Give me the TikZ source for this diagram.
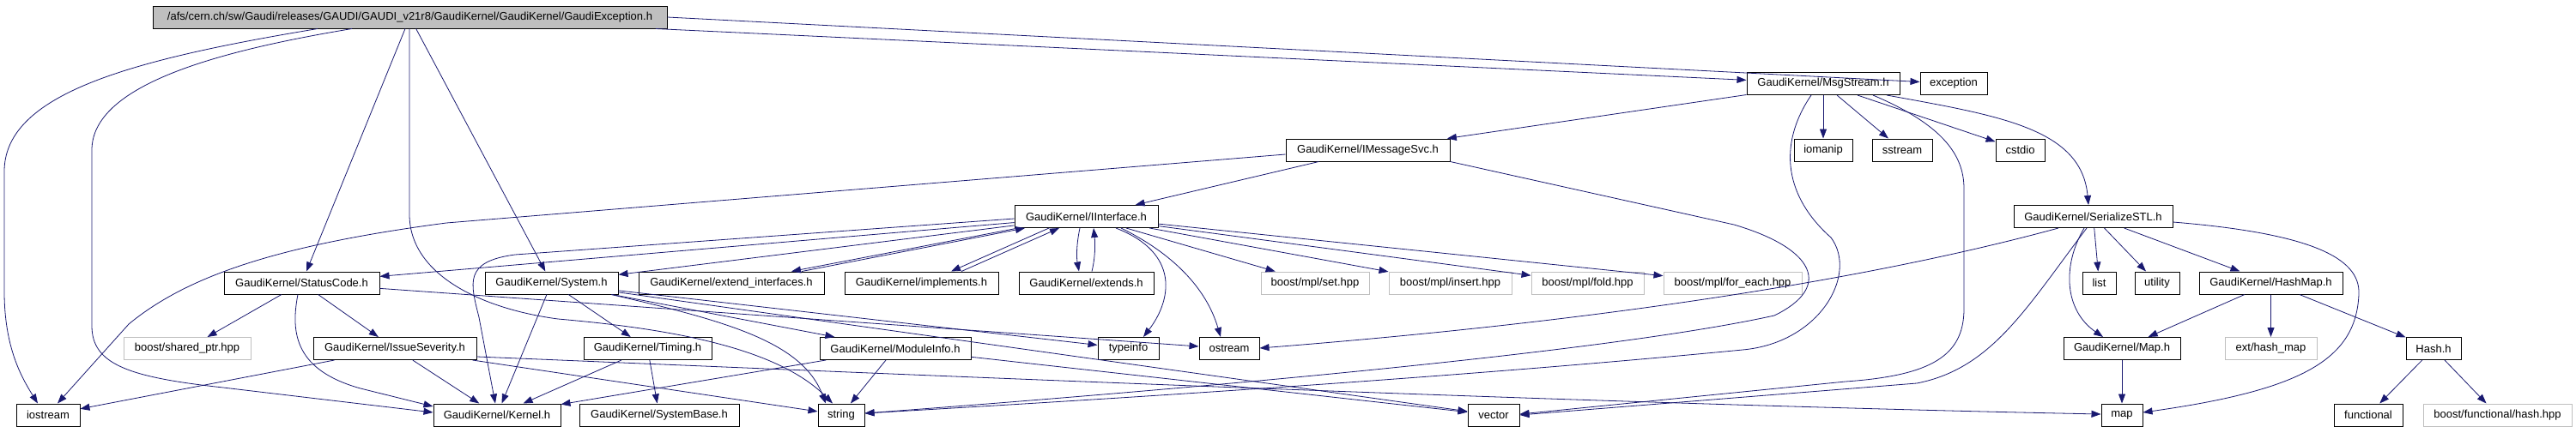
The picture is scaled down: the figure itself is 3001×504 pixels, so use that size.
\documentclass[tikz,border=0pt]{standalone}
\usepackage{fontspec}
\setmainfont{Liberation Sans}
\usepackage{tikz}
\usetikzlibrary{arrows.meta}
\usepackage{xcolor}
\definecolor{edgec}{RGB}{25,25,112}
\definecolor{rootgrey}{RGB}{191,191,191}
\definecolor{extgrey}{RGB}{191,191,191}

\begin{document}
\begin{tikzpicture}[
  x=1pt, y=-1pt,
  hdr/.style={rectangle, draw=black, line width=1pt, minimum height=26pt,
    inner sep=0pt, font=\fontsize{13}{15}\selectfont},
  sys/.style={hdr, draw=extgrey},
  dep/.style={-{Triangle[length=11pt,width=8pt]}, draw=edgec, line width=0.8pt},
]
\useasboundingbox (0,0) rectangle (3001,504);

% ---- top: the documented file ----
\node[hdr, fill=rootgrey, minimum width=599pt] (root) at (477.5,20)
  {/afs/cern.ch/sw/Gaudi/releases/GAUDI/GAUDI\_v21r8/GaudiKernel/GaudiKernel/GaudiException.h};

% ---- rows of included headers ----
\node[hdr, minimum width=178pt] (MsgStream) at (2124,97.5) {GaudiKernel/MsgStream.h};
\node[hdr, minimum width=78pt] (exception) at (2276,97.5) {exception};

\node[hdr, minimum width=191pt] (IMessageSvc) at (1593.5,175) {GaudiKernel/IMessageSvc.h};
\node[hdr, minimum width=68pt] (iomanip) at (2124,175) {iomanip};
\node[hdr, minimum width=70pt] (sstream) at (2216,175) {sstream};
\node[hdr, minimum width=57pt] (cstdio) at (2353.5,175) {cstdio};

\node[hdr, minimum width=167pt] (IInterface) at (1265.5,252.5) {GaudiKernel/IInterface.h};
\node[hdr, minimum width=185pt] (SerializeSTL) at (2438.5,252.5) {GaudiKernel/SerializeSTL.h};

\node[hdr, minimum width=181pt] (StatusCode) at (351.5,330) {GaudiKernel/StatusCode.h};
\node[hdr, minimum width=155pt] (System) at (642.5,330) {GaudiKernel/System.h};
\node[hdr, minimum width=216pt] (extend) at (852,330) {GaudiKernel/extend\_interfaces.h};
\node[hdr, minimum width=179pt] (implements) at (1073.5,330) {GaudiKernel/implements.h};
\node[hdr, minimum width=157pt] (extends) at (1265.5,330) {GaudiKernel/extends.h};
\node[sys, minimum width=126pt] (mplset) at (1532,330) {boost/mpl/set.hpp};
\node[sys, minimum width=143pt] (mplinsert) at (1689.5,330) {boost/mpl/insert.hpp};
\node[sys, minimum width=131pt] (mplfold) at (1849.5,330) {boost/mpl/fold.hpp};
\node[sys, minimum width=161pt] (mplforeach) at (2018.5,330) {boost/mpl/for\_each.hpp};
\node[hdr, minimum width=39pt] (list) at (2445.5,330) {list};
\node[hdr, minimum width=52pt] (utility) at (2513,330) {utility};
\node[hdr, minimum width=167pt] (HashMap) at (2645.5,330) {GaudiKernel/HashMap.h};

\node[sys, minimum width=148pt] (sharedptr) at (218,406.5) {boost/shared\_ptr.hpp};
\node[hdr, minimum width=190pt] (IssueSeverity) at (460,406.5) {GaudiKernel/IssueSeverity.h};
\node[hdr, minimum width=149pt] (Timing) at (754.5,406.5) {GaudiKernel/Timing.h};
\node[hdr, minimum width=176pt] (ModuleInfo) at (1043,406.5) {GaudiKernel/ModuleInfo.h};
\node[hdr, minimum width=71pt] (typeinfo) at (1314.5,406.5) {typeinfo};
\node[hdr, minimum width=70pt] (ostream) at (1432,406.5) {ostream};
\node[hdr, minimum width=136pt] (MapH) at (2472,406.5) {GaudiKernel/Map.h};
\node[sys, minimum width=107pt] (hashmapext) at (2645.5,406.5) {ext/hash\_map};
\node[hdr, minimum width=64pt] (Hash) at (2835,406.5) {Hash.h};

\node[hdr, minimum width=74pt] (iostream) at (56,484) {iostream};
\node[hdr, minimum width=148pt] (Kernel) at (579,484) {GaudiKernel/Kernel.h};
\node[hdr, minimum width=186pt] (SystemBase) at (768,484) {GaudiKernel/SystemBase.h};
\node[hdr, minimum width=54pt] (string) at (980,484) {string};
\node[hdr, minimum width=60pt] (vector) at (1740,484) {vector};
\node[hdr, minimum width=48pt] (map) at (2472,484) {map};
\node[hdr, minimum width=80pt] (functional) at (2759,484) {functional};
\node[sys, minimum width=173pt] (boosthash) at (2909.5,484) {boost/functional/hash.hpp};

% ---- edges from the documented file ----
\draw[dep] (root.south -| 370,0) .. controls (150,70) and (5,110) .. (5,200) -- (5,340)
  .. controls (5,405) and (25,440) .. (iostream.north -| 44,0);
\draw[dep] (root.south -| 410,0) .. controls (250,60) and (107,100) .. (107,175) -- (107,380)
  .. controls (107,425) and (150,440) .. (260,452) -- (Kernel.west |- 0,481);
\draw[dep] (root) -- (StatusCode);
\draw[dep] (root.south -| 477,0) -- (477,250) .. controls (477,320) and (560,360) .. (650,372)
  .. controls (800,385) and (910,410) .. (string.north -| 970,0);
\draw[dep] (root) -- (System);
\draw[dep] (root) -- (MsgStream);
\draw[dep] (root.east) -- (exception);

% ---- MsgStream.h ----
\draw[dep] (MsgStream) -- (IMessageSvc);
\draw[dep] (MsgStream) -- (iomanip);
\draw[dep] (MsgStream) -- (sstream);
\draw[dep] (MsgStream) -- (cstdio);
\draw[dep] (MsgStream.south -| 2198,0) .. controls (2330,135) and (2425,150) .. (SerializeSTL.north -| 2433,0);
\draw[dep] (MsgStream.south -| 2110,0) .. controls (2070,170) and (2080,230) .. (2133,277)
  .. controls (2165,320) and (2120,400) .. (2030,408)
  .. controls (1700,440) and (1300,465) .. (string.east |- 0,482);
\draw[dep] (MsgStream.south -| 2182,0) .. controls (2262,145) and (2288,180) .. (2288,220) -- (2288,360)
  .. controls (2288,415) and (2250,438) .. (2150,445) -- (vector.east |- 0,483);

% ---- IMessageSvc.h ----
\draw[dep] (IMessageSvc) -- (IInterface);
\draw[dep] (IMessageSvc.west |- 0,180) -- (520,260) .. controls (330,285) and (220,320) .. (150,378)
  -- (iostream.north -| 67,0);
\draw[dep] (IMessageSvc.south east) -- (2020,262) .. controls (2115,290) and (2135,335) .. (2067,368)
  .. controls (1900,405) and (1500,445) .. (string.east |- 0,482);

% ---- IInterface.h ----
\draw[dep] (IInterface) -- (StatusCode);
\draw[dep] (IInterface.west |- 0,255) -- (600,297) .. controls (540,305) and (548,330) .. (558,370)
  -- (Kernel.north -| 577,0);
\draw[dep] (IInterface) -- (System);
\draw[dep] (IInterface.south -| 1186,0) -- (extend.north -| 922,0);
\draw[dep] (extend.north -| 934,0) -- (IInterface.south -| 1194,0);
\draw[dep] (IInterface.south -| 1222,0) -- (implements.north -| 1108,0);
\draw[dep] (implements.north -| 1120,0) -- (IInterface.south -| 1234,0);
\draw[dep] (IInterface.south -| 1258,0) .. controls (1254,285) and (1254,300) .. (extends.north -| 1257,0);
\draw[dep] (extends.north -| 1272,0) .. controls (1276,300) and (1276,285) .. (IInterface.south -| 1274,0);
\draw[dep] (IInterface.south -| 1300,0) .. controls (1375,295) and (1365,350) .. (typeinfo.north -| 1332,0);
\draw[dep] (IInterface.south -| 1306,0) .. controls (1365,295) and (1405,335) .. (ostream.north -| 1422,0);
\draw[dep] (IInterface) -- (mplset);
\draw[dep] (IInterface) -- (mplinsert);
\draw[dep] (IInterface) -- (mplfold);
\draw[dep] (IInterface) -- (mplforeach);

% ---- StatusCode.h, IssueSeverity.h ----
\draw[dep] (StatusCode) -- (sharedptr);
\draw[dep] (StatusCode) -- (IssueSeverity);
\draw[dep] (StatusCode.south -| 347,0) .. controls (338,390) and (345,432) .. (420,453) -- (Kernel.west |- 0,474);
\draw[dep] (StatusCode) -- (ostream);
\draw[dep] (IssueSeverity) -- (iostream);
\draw[dep] (IssueSeverity) -- (Kernel);
\draw[dep] (IssueSeverity) -- (string);
\draw[dep] (IssueSeverity.east |- 0,416) .. controls (900,430) and (1800,470) .. (map.west |- 0,483);

% ---- System.h, Timing.h, ModuleInfo.h ----
\draw[dep] (System) -- (Kernel);
\draw[dep] (System) -- (Timing);
\draw[dep] (System) -- (ModuleInfo);
\draw[dep] (System.south -| 712,0) .. controls (850,375) and (935,400) .. (string.north -| 962,0);
\draw[dep] (System) -- (vector);
\draw[dep] (System) -- (typeinfo);
\draw[dep] (Timing) -- (Kernel);
\draw[dep] (Timing) -- (SystemBase);
\draw[dep] (ModuleInfo) -- (Kernel);
\draw[dep] (ModuleInfo) -- (string);
\draw[dep] (ModuleInfo) -- (vector);

% ---- SerializeSTL.h ----
\draw[dep] (SerializeSTL.south -| 2398,0) .. controls (2200,320) and (1900,372) .. (ostream.east |- 0,406);
\draw[dep] (SerializeSTL) -- (list);
\draw[dep] (SerializeSTL) -- (utility);
\draw[dep] (SerializeSTL) -- (HashMap);
\draw[dep] (SerializeSTL.south -| 2428,0) .. controls (2402,310) and (2405,362) .. (MapH.north -| 2450,0);
\draw[dep] (SerializeSTL.south -| 2431,0) .. controls (2360,360) and (2320,430) .. (2233,447)
  -- (vector.east |- 0,484);
\draw[dep] (SerializeSTL.east |- 0,259) .. controls (2690,272) and (2750,300) .. (2748,343)
  .. controls (2745,420) and (2680,455) .. (map.east |- 0,481);

% ---- HashMap.h, Hash.h, Map.h ----
\draw[dep] (HashMap) -- (MapH);
\draw[dep] (HashMap) -- (hashmapext);
\draw[dep] (HashMap) -- (Hash);
\draw[dep] (Hash) -- (functional);
\draw[dep] (Hash) -- (boosthash);
\draw[dep] (MapH) -- (map);

\end{tikzpicture}
\end{document}
